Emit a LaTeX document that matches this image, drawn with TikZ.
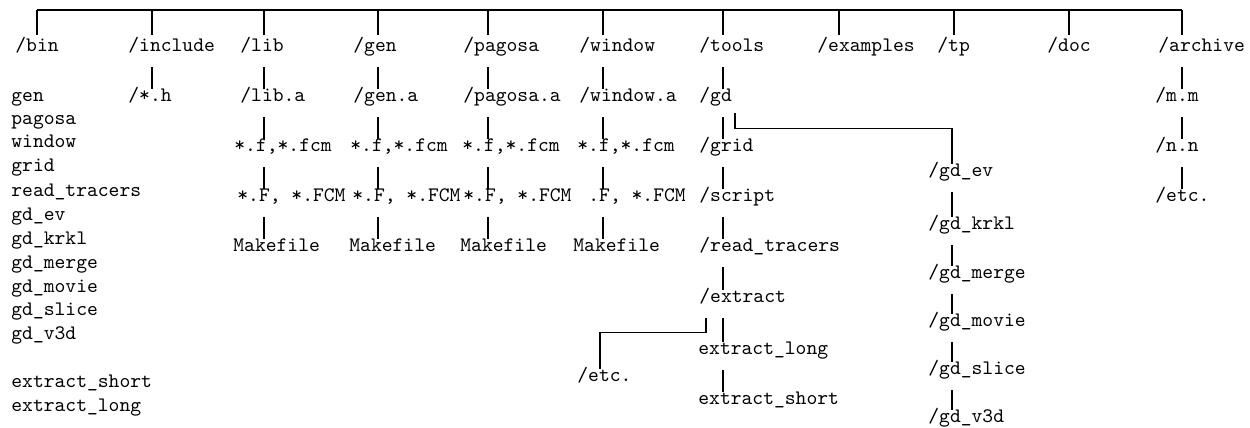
\documentclass[tikz,border=0pt]{standalone}
\begin{document}
\begin{tikzpicture}[x=0.5pt,y=-0.5pt,
  lbl/.style={anchor=west,inner sep=0pt,text height=6pt,text depth=2pt,
    font=\ttfamily\fontsize{10.3}{12}\selectfont},
  conn/.style={line width=0.7pt,shorten <=6pt},
  bar/.style={line width=0.7pt,shorten >=2pt}]
  \useasboundingbox (0,0) rectangle (1250,428);

  % columns of the tree
  \coordinate (top) at (0,10);
  \coordinate (xbin) at (37,0);
  \coordinate (xinclude) at (152,0);
  \coordinate (xlib) at (264,0);
  \coordinate (xgen) at (378,0);
  \coordinate (xpagosa) at (488,0);
  \coordinate (xwindow) at (603,0);
  \coordinate (xtools) at (723,0);
  \coordinate (xexamples) at (839,0);
  \coordinate (xtp) at (954,0);
  \coordinate (xdoc) at (1069,0);
  \coordinate (xarchive) at (1182,0);
  \coordinate (xgdsub) at (735,0);
  \coordinate (xgdcol) at (952,0);
  \coordinate (xextsub) at (706,0);
  \coordinate (xetc) at (600,0);

  % first level
  \node[lbl] (bin) at (15,47) {/bin};
  \node[lbl] (include) at (128,47) {/include};
  \node[lbl] (lib) at (240,47) {/lib};
  \node[lbl] (gen) at (353,47) {/gen};
  \node[lbl] (pagosa) at (463,47) {/pagosa};
  \node[lbl] (window) at (579,47) {/window};
  \node[lbl] (tools) at (699,47) {/tools};
  \node[lbl] (examples) at (817,47) {/examples};
  \node[lbl] (tp) at (937,47) {/tp};
  \node[lbl] (doc) at (1047,47) {/doc};
  \node[lbl] (archive) at (1158,47) {/archive};

  % bin contents
  \foreach \t/\y [count=\i] in {gen/97, pagosa/120, window/143, grid/167,
      read\_tracers/192, gd\_ev/216, gd\_krkl/240, gd\_merge/264, gd\_movie/288,
      gd\_slice/311, gd\_v3d/335, extract\_short/383, extract\_long/407}
    \node[lbl] (binfile\i) at (11,\y) {\t};

  \node[lbl] (hfiles) at (128,97) {/*.h};

  % libraries
  \node[lbl] (liba) at (240,97) {/lib.a};
  \node[lbl] (gena) at (353,97) {/gen.a};
  \node[lbl] (pagosaa) at (463,97) {/pagosa.a};
  \node[lbl] (windowa) at (579,97) {/window.a};
  \node[lbl] (libf) at (234,147) {*.f,*.fcm};
  \node[lbl] (genf) at (350,147) {*.f,*.fcm};
  \node[lbl] (pagosaf) at (462,147) {*.f,*.fcm};
  \node[lbl] (windowf) at (577,147) {*.f,*.fcm};
  \node[lbl] (libF) at (237,197) {*.F, *.FCM};
  \node[lbl] (genF) at (352,197) {*.F, *.FCM};
  \node[lbl] (pagosaF) at (463,197) {*.F, *.FCM};
  \node[lbl] (windowF) at (588,197) {.F, *.FCM};
  \node[lbl] (libmake) at (233,247) {Makefile};
  \node[lbl] (genmake) at (349,247) {Makefile};
  \node[lbl] (pagosamake) at (460,247) {Makefile};
  \node[lbl] (windowmake) at (573,247) {Makefile};

  % tools
  \node[lbl] (gd) at (699,97) {/gd};
  \node[lbl] (grid) at (699,147) {/grid};
  \node[lbl] (script) at (699,197) {/script};
  \node[lbl] (readtr) at (699,247) {/read\_tracers};
  \node[lbl] (extract) at (699,298) {/extract};
  \node[lbl] (extlong) at (698,350) {extract\_long};
  \node[lbl] (extshort) at (698,400) {extract\_short};
  \node[lbl] (extetc) at (577,377) {/etc.};
  \node[lbl] (gdev) at (928,172) {/gd\_ev};
  \node[lbl] (gdkrkl) at (928,225) {/gd\_krkl};
  \node[lbl] (gdmerge) at (928,274) {/gd\_merge};
  \node[lbl] (gdmovie) at (928,322) {/gd\_movie};
  \node[lbl] (gdslice) at (928,370) {/gd\_slice};
  \node[lbl] (gdvd) at (928,418) {/gd\_v3d};

  % archive
  \node[lbl] (mm) at (1155,97) {/m.m};
  \node[lbl] (nn) at (1155,147) {/n.n};
  \node[lbl] (archetc) at (1155,197) {/etc.};

  % top bar
  \draw[line width=0.7pt] (top -| xbin) -- (top -| xarchive);
  \foreach \n in {bin,include,lib,gen,pagosa,window,tools,examples,tp,doc,archive}
    \draw[bar] (top -| x\n) -- (\n.north -| x\n);

  % chains
  \draw[conn] (include.south -| xinclude) -- (hfiles.north -| xinclude);
  \foreach \c in {lib,gen,pagosa,window}
    \foreach \a/\b in {\c/\c a, \c a/\c f, \c f/\c F, \c F/\c make}
      \draw[conn] (\a.south -| x\c) -- (\b.north -| x\c);
  \foreach \a/\b in {tools/gd, gd/grid, grid/script, script/readtr,
      readtr/extract, extract/extlong, extlong/extshort}
    \draw[conn] (\a.south -| xtools) -- (\b.north -| xtools);
  \foreach \a/\b in {gdev/gdkrkl, gdkrkl/gdmerge, gdmerge/gdmovie,
      gdmovie/gdslice, gdslice/gdvd}
    \draw[conn] (\a.south -| xgdcol) -- (\b.north -| xgdcol);
  \foreach \a/\b in {archive/mm, mm/nn, nn/archetc}
    \draw[conn] (\a.south -| xarchive) -- (\b.north -| xarchive);

  % branches
  \draw[line width=0.7pt] ([yshift=-4pt]gd.south -| xgdsub) -- ++(0,15) -| (gdev.north -| xgdcol);
  \draw[line width=0.7pt] ([yshift=-6pt]extract.south -| xextsub) -- ++(0,14) -| (extetc.north -| xetc);
\end{tikzpicture}
\end{document}
